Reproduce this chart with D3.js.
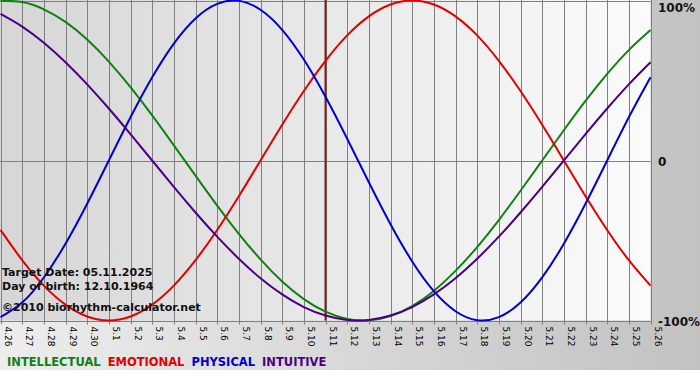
<!DOCTYPE html>
<html>
<head>
<meta charset="utf-8">
<script src="https://cdn.jsdelivr.net/npm/d3@7"></script>
<style>
  body { margin: 0; background: #fff; }
  svg { display: block; font-family: "DejaVu Sans", Verdana, sans-serif; }
</style>
</head>
<body>
<svg width="700" height="380"></svg>
<script>
// days shown on the x axis (month.day)
var days = ["4.26","4.27","4.28","4.29","4.30","5.1","5.2","5.3","5.4","5.5","5.6","5.7","5.8","5.9","5.10",
  "5.11","5.12","5.13","5.14","5.15","5.16","5.17","5.18","5.19","5.20","5.21","5.22","5.23","5.24","5.25","5.26"];

// values in percent, one per day
var physical = [-97.9,-88.8,-73.1,-52.0,-27.0,0,27.0,52.0,73.1,88.8,97.9,99.8,94.2,81.7,63.1,39.8,13.6,-13.6,
  -39.8,-63.1,-81.7,-94.2,-99.8,-97.9,-88.8,-73.1,-52.0,-27.0,0,27.0,52.0];
var emotional = [-43.4,-62.3,-78.2,-90.1,-97.5,-100,-97.5,-90.1,-78.2,-62.3,-43.4,-22.3,0,22.3,43.4,62.3,78.2,
  90.1,97.5,100,97.5,90.1,78.2,62.3,43.4,22.3,0,-22.3,-43.4,-62.3,-78.2];
var intellectual = [99.9,99.0,94.5,86.6,75.6,61.8,45.8,28.2,9.5,-9.5,-28.2,-45.8,-61.8,-75.6,-86.6,-94.5,-99.0,
  -99.9,-97.2,-91.0,-81.5,-69.0,-54.1,-37.2,-18.9,0,18.9,37.2,54.1,69.0,81.5];
var intuitive = [91.6,83.7,73.6,61.4,47.6,32.5,16.5,0,-16.5,-32.5,-47.6,-61.4,-73.6,-83.7,-91.6,-96.9,-99.7,
  -99.7,-96.9,-91.6,-83.7,-73.6,-61.4,-47.6,-32.5,-16.5,0,16.5,32.5,47.6,61.4];

var targetDay = "5.11";
var yTicks = [100, 0, -100];

var series = [
  {name: "INTELLECTUAL", values: intellectual, color: "#108010"},
  {name: "EMOTIONAL", values: emotional, color: "#e00000"},
  {name: "PHYSICAL", values: physical, color: "#0000cc"},
  {name: "INTUITIVE", values: intuitive, color: "#4b0082"}
];

var svg = d3.select("svg"),
    width = +svg.attr("width"),
    height = +svg.attr("height");

var plotW = 650.5, plotH = 320.5;

var x = d3.scalePoint().domain(days).range([0.5, plotW]);
var y = d3.scaleLinear().domain([-100, 100]).range([plotH, 0.5]);

var defs = svg.append("defs");
var outerGrad = defs.append("linearGradient").attr("id", "outerGrad")
  .attr("x1", "0%").attr("y1", "0%").attr("x2", "100%").attr("y2", "0%");
outerGrad.append("stop").attr("offset", "0%").attr("stop-color", "#ededed");
outerGrad.append("stop").attr("offset", "100%").attr("stop-color", "#c2c2c2");

var plotGrad = defs.append("linearGradient").attr("id", "plotGrad")
  .attr("x1", "0%").attr("y1", "0%").attr("x2", "100%").attr("y2", "0%");
plotGrad.append("stop").attr("offset", "0%").attr("stop-color", "#d6d6d6");
plotGrad.append("stop").attr("offset", "100%").attr("stop-color", "#fbfbfb");

// backgrounds
svg.append("rect").attr("width", width).attr("height", height).attr("fill", "#fff");
svg.append("rect").attr("width", width).attr("height", 370).attr("fill", "url(#outerGrad)");
svg.append("rect").attr("x", 0).attr("y", 0).attr("width", plotW).attr("height", plotH)
  .attr("fill", "url(#plotGrad)");

// vertical grid + ticks
var grid = svg.append("g").attr("stroke", "#808080").attr("stroke-width", 1);
grid.selectAll("line.v")
  .data(days)
  .enter().append("line")
  .attr("class", "v")
  .attr("x1", function(d) { return Math.round(x(d)) + 0.5; })
  .attr("x2", function(d) { return Math.round(x(d)) + 0.5; })
  .attr("y1", 0)
  .attr("y2", plotH + 4);

// horizontal lines at 100, 0, -100
grid.selectAll("line.h")
  .data(yTicks)
  .enter().append("line")
  .attr("class", "h")
  .attr("x1", 0)
  .attr("x2", plotW)
  .attr("y1", function(d) { return Math.round(y(d)) + 0.5; })
  .attr("y2", function(d) { return Math.round(y(d)) + 0.5; });

// x labels, rotated
svg.append("g").selectAll("text")
  .data(days)
  .enter().append("text")
  .attr("transform", function(d) { return "translate(" + (Math.round(x(d)) + 4) + "," + (plotH + 6) + ") rotate(90)"; })
  .attr("font-size", "9px")
  .attr("fill", "#000")
  .text(function(d) { return d; });

// y labels
svg.append("g").selectAll("text")
  .data(yTicks)
  .enter().append("text")
  .attr("x", 658)
  .attr("y", function(d) { return y(d) + 5; })
  .attr("dy", function(d) { return d === 100 ? 6 : 0; })
  .attr("font-size", "12px")
  .attr("font-weight", "bold")
  .attr("fill", "#111")
  .text(function(d) { return d === 0 ? "0" : d + "%"; });

// target day line
svg.append("line")
  .attr("x1", x(targetDay)).attr("x2", x(targetDay))
  .attr("y1", 0).attr("y2", plotH)
  .attr("stroke", "#7a2020")
  .attr("stroke-width", 2);

// curves
var line = d3.line()
  .x(function(d, i) { return x(days[i]); })
  .y(function(d) { return y(d); })
  .curve(d3.curveNatural);

svg.append("g").selectAll("path")
  .data(series)
  .enter().append("path")
  .attr("d", function(s) { return line(s.values); })
  .attr("fill", "none")
  .attr("stroke", function(s) { return s.color; })
  .attr("stroke-width", 2);

// info text
var info = ["Target Date: 05.11.2025", "Day of birth: 12.10.1964", "\u00a92010 biorhythm-calculator.net"];
var infoY = [276, 290, 311];
svg.append("g").selectAll("text")
  .data(info)
  .enter().append("text")
  .attr("x", 2)
  .attr("y", function(d, i) { return infoY[i]; })
  .attr("font-size", "11px")
  .attr("font-weight", "bold")
  .attr("fill", "#111")
  .text(function(d) { return d; });

// legend
var legend = svg.append("text")
  .attr("x", 7)
  .attr("y", 366)
  .attr("font-size", "11.5px")
  .attr("font-weight", "bold");
series.forEach(function(s, i) {
  legend.append("tspan")
    .attr("fill", s.color)
    .attr("dx", i ? 7 : 0)
    .text(s.name);
});
</script>
</body>
</html>
